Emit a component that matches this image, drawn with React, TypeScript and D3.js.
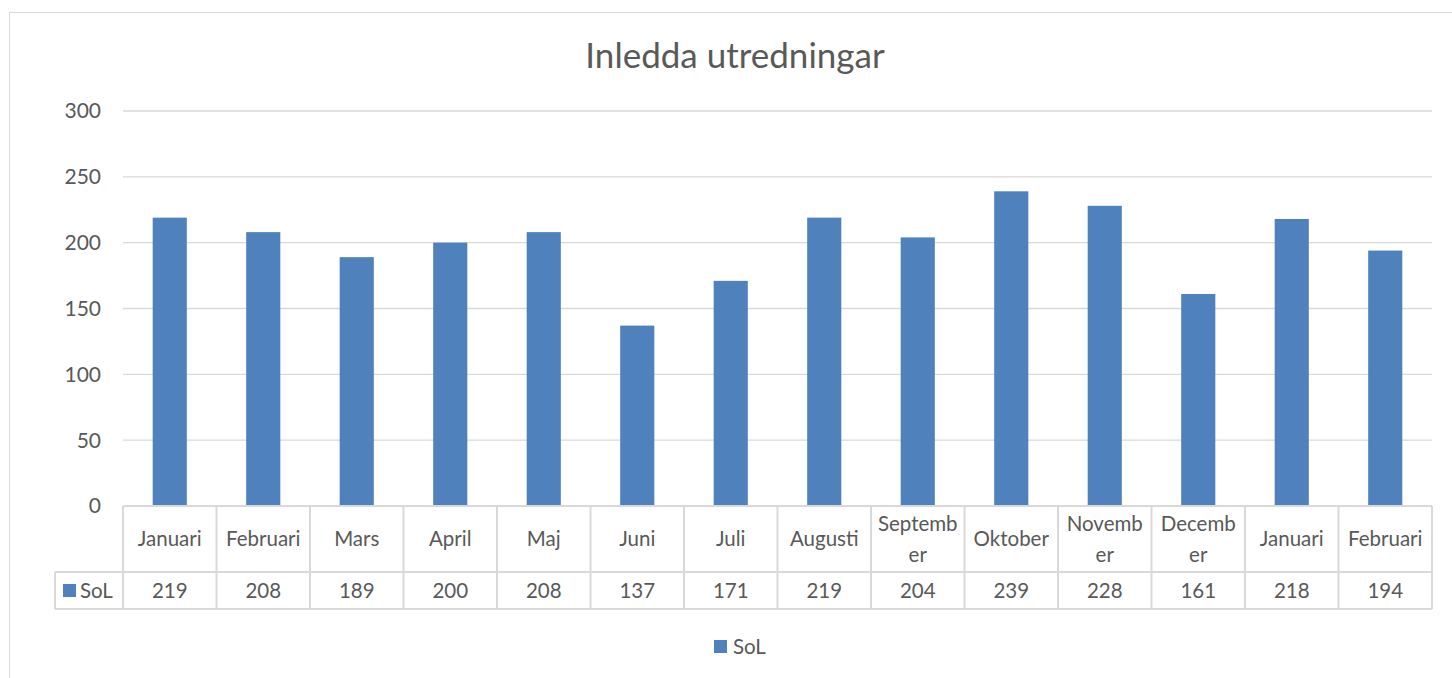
import React from "react";
import * as d3 from "d3";

const categories = ["Januari", "Februari", "Mars", "April", "Maj", "Juni", "Juli", "Augusti", "September", "Oktober", "November", "December", "Januari", "Februari"];
const categoryLines = [["Januari"], ["Februari"], ["Mars"], ["April"], ["Maj"], ["Juni"], ["Juli"], ["Augusti"], ["Septemb", "er"], ["Oktober"], ["Novemb", "er"], ["Decemb", "er"], ["Januari"], ["Februari"]];
const solValues = [219, 208, 189, 200, 208, 137, 171, 219, 204, 239, 228, 161, 218, 194];
const yTicks = [0, 50, 100, 150, 200, 250, 300];
const seriesName = "SoL";
const title = "Inledda utredningar";

const W = 1452, H = 678;
const left = 123, right = 1432, top = 111, bottom = 506;
const headerBottom = 572, tableBottom = 609, legendColLeft = 55;
const FONT = "Lato, 'Open Sans', sans-serif";
const TXT = "#595959";
const GRID = "#d9d9d9";
const BAR = "#4f81bd";
const FS = 20.5;

export default function App() {
  const x = d3.scaleBand<number>().domain(d3.range(categories.length)).range([left, right]).paddingInner(0).paddingOuter(0);
  const y = d3.scaleLinear().domain([0, 300]).range([bottom, top]);
  const bw = x.bandwidth();
  const barW = bw * 0.365;
  return (
    <svg width={W} height={H} style={{ position: "absolute", left: 0, top: 0, background: "#fff" }} fontFamily={FONT}>
      <rect x={9.5} y={12.5} width={W + 20} height={H + 20} fill="#fff" stroke="#d9d9d9" />
      <text x={735} y={68} textAnchor="middle" fontSize={35} fill={TXT}>{title}</text>
      {yTicks.map(t => (
        <g key={t}>
          {t > 0 && <line x1={left} x2={right} y1={y(t)} y2={y(t)} stroke={GRID} strokeWidth={1.3} />}
          <text x={101} y={y(t)} dy="0.35em" textAnchor="end" fontSize={21} fill={TXT}>{t}</text>
        </g>
      ))}
      {solValues.map((v, i) => (
        <rect key={i} x={x(i)! + bw / 2 - barW / 2} y={y(v)} width={barW} height={y(0) - y(v)} fill={BAR} />
      ))}
      <g stroke={GRID} strokeWidth={2} fill="none">
        <line x1={left} x2={right} y1={bottom} y2={bottom} />
        <line x1={legendColLeft} x2={right} y1={headerBottom} y2={headerBottom} />
        <line x1={legendColLeft} x2={right} y1={tableBottom} y2={tableBottom} />
        <line x1={legendColLeft} x2={legendColLeft} y1={headerBottom} y2={tableBottom} />
        {d3.range(categories.length + 1).map(i => {
          const xx = i < categories.length ? x(i)! : right;
          return <line key={i} x1={xx} x2={xx} y1={bottom} y2={tableBottom} />;
        })}
      </g>
      {categoryLines.map((lines, i) => (
        <text key={i} x={x(i)! + bw / 2} textAnchor="middle" fontSize={FS} fill={TXT}>
          {lines.map((l, j) => (
            <tspan key={j} x={x(i)! + bw / 2} y={(headerBottom + bottom) / 2 + (j - (lines.length - 1) / 2) * 31} dy="0.35em">{l}</tspan>
          ))}
        </text>
      ))}
      <rect x={63} y={584} width={13} height={13} fill={BAR} />
      <text x={80} y={(headerBottom + tableBottom) / 2} dy="0.35em" fontSize={FS} fill={TXT}>{seriesName}</text>
      {solValues.map((v, i) => (
        <text key={i} x={x(i)! + bw / 2} y={(headerBottom + tableBottom) / 2} dy="0.35em" textAnchor="middle" fontSize={FS} fill={TXT}>{v}</text>
      ))}
      <rect x={714} y={640} width={13} height={13} fill={BAR} />
      <text x={733} y={646.5} dy="0.35em" fontSize={FS} fill={TXT}>{seriesName}</text>
    </svg>
  );
}
